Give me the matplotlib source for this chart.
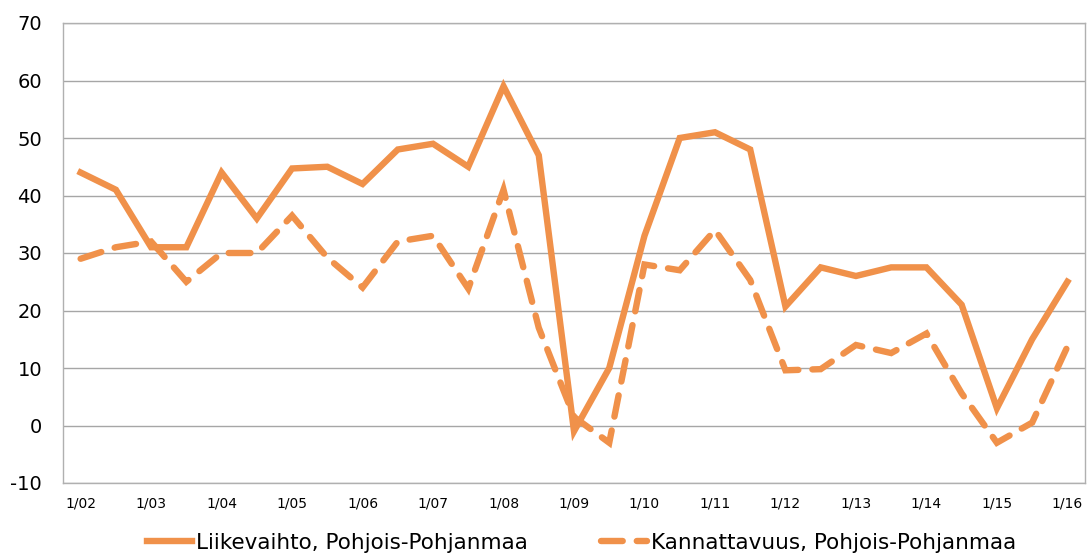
import matplotlib
matplotlib.use("Agg")
import matplotlib.pyplot as plt
import numpy as np

plt.rcParams["axes.unicode_minus"] = False

years = ["02", "03", "04", "05", "06", "07", "08", "09", "10", "11", "12", "13", "14", "15", "16"]
categories = []
for i, y in enumerate(years):
    categories.append("1/" + y)
    if i < len(years) - 1:
        categories.append("7/" + y)

liikevaihto = [44, 41, 31, 31, 44, 36, 44.7, 45, 42, 48, 49, 45, 59, 47, -1, 10,
               33, 50, 51, 48, 20.7, 27.5, 26, 27.5, 27.5, 21, 3, 15, 25]
kannattavuus = [29, 31, 32, 25, 30, 30, 36.5, 29.2, 24, 32, 33, 23.8, 41, 17, 1.5, -3,
                28, 27, 34, 25.3, 9.6, 9.8, 14, 12.6, 16, 5.6, -3, 0.5, 13.7]

label1 = "Liikevaihto, Pohjois-Pohjanmaa"
label2 = "Kannattavuus, Pohjois-Pohjanmaa"
color = "#F0914A"

fig = plt.figure(figsize=(10.87, 5.53), dpi=100)
ax = fig.add_axes([63/1087, 1-483/553, (1085-63)/1087, (483-23)/553])

x = np.arange(len(categories))
ax.plot(x, liikevaihto, color=color, lw=4.6, solid_joinstyle="miter", label=label1)
ax.plot(x, kannattavuus, color=color, lw=4.6, dashes=(3.4, 2.2),
        dash_capstyle="round", dash_joinstyle="miter", label=label2)

ax.set_xlim(-0.5, len(categories) - 0.5)
ax.set_ylim(-10, 70)
ax.set_yticks(range(-10, 71, 10))
ax.set_xticks(x[::2])
ax.set_xticklabels(categories[::2], fontsize=10)
ax.tick_params(axis="y", labelsize=14, length=0, pad=15)
ax.tick_params(axis="x", length=0, pad=10)
ax.grid(axis="y", color="#A6A6A6", lw=1)
ax.set_axisbelow(True)
for s in ax.spines.values():
    s.set_color("#B0B0B0")
    s.set_linewidth(1)

fig.legend(loc="center", bbox_to_anchor=(0.535, 1-543/553), ncol=2, frameon=False,
           fontsize=15.5, handlelength=2.1, columnspacing=3.4, handletextpad=0.2,
           borderaxespad=0)

fig.savefig("out.png", dpi=100)
